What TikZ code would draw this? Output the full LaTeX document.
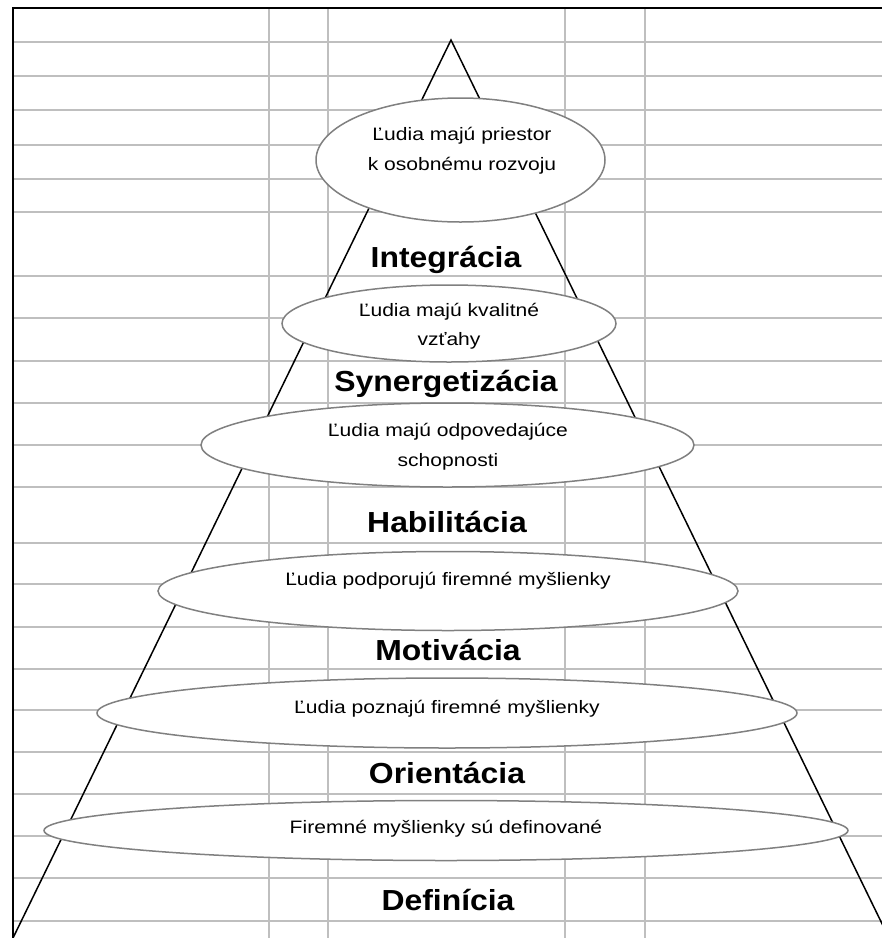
\documentclass[tikz,border=0pt]{standalone}
\usepackage{fontspec}
\setmainfont{Liberation Sans}
\newfontfamily\bodyfont[FakeStretch=1.17]{Liberation Sans}
\newfontfamily\headfont[FakeStretch=1.1]{Liberation Sans}
\usetikzlibrary{shapes.geometric}

\tikzset{
  gridline/.style={draw=black!25, line width=2pt},
  frameline/.style={draw=black, line width=2.5pt},
  pyramid/.style={draw=black, line width=1.5pt},
  oval/.style={ellipse, draw=black!50, line width=1.5pt, fill=white, inner sep=0pt},
  body/.style={inner sep=0pt, anchor=base, font=\bodyfont\fontsize{18}{22}\selectfont},
  level/.style={inner sep=0pt, anchor=base, font=\headfont\bfseries\fontsize{29}{34}\selectfont},
}

\begin{document}
\begin{tikzpicture}[x=1pt, y=-1pt]
  \useasboundingbox (0,0) rectangle (882,938);
  \clip (0,0) rectangle (882,938);

  % sheet grid
  \foreach \r in {42,76,110,145,179,212,276,318,361,403,445,487,543,584,627,669,710,752,794,836,878,921}
    \draw[gridline] (13,\r) -- (882,\r);
  \foreach \c in {269,328,565,645}
    \draw[gridline] (\c,8) -- (\c,938);
  \draw[frameline] (13,938) -- (13,8) -- (882,8);

  % pyramid outline
  \coordinate (apex) at (451,40);
  \coordinate (baseL) at (13,938);
  \coordinate (baseR) at (889,938);
  \draw[pyramid] (baseL) -- (apex) -- (baseR);

  % stages
  \node[oval, minimum width=289pt, minimum height=124pt] (e1) at (460.5,160) {};
  \node[oval, minimum width=334pt, minimum height=77pt] (e2) at (449,323.5) {};
  \node[oval, minimum width=493pt, minimum height=84pt] (e3) at (447.5,445) {};
  \node[oval, minimum width=580pt, minimum height=79pt] (e4) at (448,591) {};
  \node[oval, minimum width=700pt, minimum height=70pt] (e5) at (447,713) {};
  \node[oval, minimum width=804pt, minimum height=60pt] (e6) at (446,830.5) {};

  \node[body] (t1a) at (462,140) {Ľudia majú priestor};
  \node[body] (t1b) at (462,170) {k osobnému rozvoju};
  \node[body] (t2a) at (449,316) {Ľudia majú kvalitné};
  \node[body] (t2b) at (449,345) {vzťahy};
  \node[body] (t3a) at (448,436) {Ľudia majú odpovedajúce};
  \node[body] (t3b) at (448,466) {schopnosti};
  \node[body] (t4) at (448,585) {Ľudia podporujú firemné myšlienky};
  \node[body] (t5) at (447,713) {Ľudia poznajú firemné myšlienky};
  \node[body] (t6) at (446,833) {Firemné myšlienky sú definované};

  % level names
  \node[level] (l1) at (446,267) {Integrácia};
  \node[level] (l2) at (446,391) {Synergetizácia};
  \node[level] (l3) at (447,532) {Habilitácia};
  \node[level] (l4) at (448,660) {Motivácia};
  \node[level] (l5) at (447,783) {Orientácia};
  \node[level] (l6) at (448,910) {Definícia};
\end{tikzpicture}
\end{document}
